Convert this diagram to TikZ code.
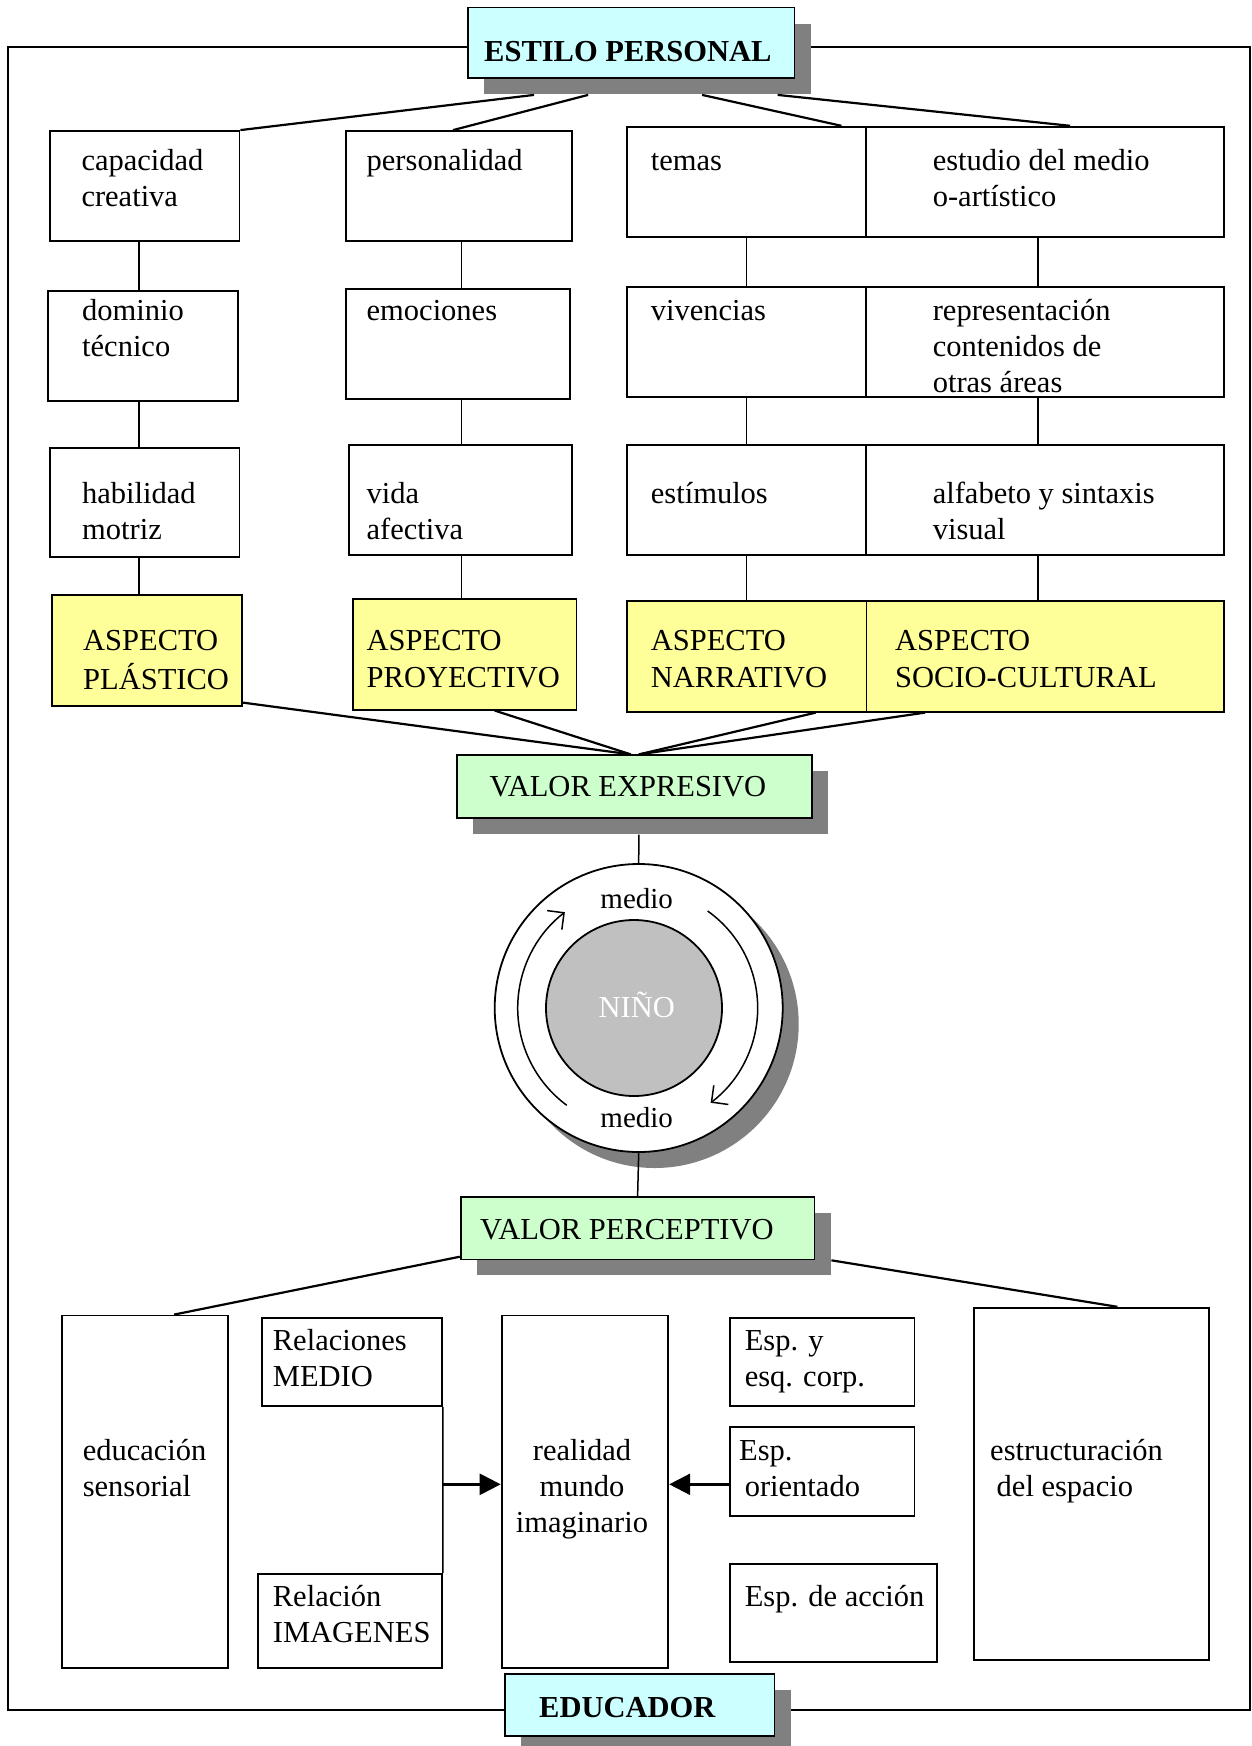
\documentclass[tikz,border=0pt]{standalone}
\usepackage{fontspec}
\setmainfont{Liberation Serif}
\usetikzlibrary{fit,shadows,arrows.meta}
\definecolor{cy}{HTML}{CCFFFF}
\definecolor{ye}{HTML}{FFFF99}
\definecolor{gr}{HTML}{CCFFCC}
\definecolor{sh}{HTML}{808080}
\definecolor{ni}{HTML}{C0C0C0}
\newcommand{\dfont}{\fontsize{30.5}{36}\selectfont}
\def\sa{25.2}
\begin{document}
\begin{tikzpicture}[x=1pt,y=-1pt,
 bx/.style={draw, line width=1.8pt, inner sep=0pt, fill=white},
 ybx/.style={bx, fill=ye},
 shd/.style={drop shadow={shadow xshift=16pt, shadow yshift=-16pt, fill=sh, opacity=1}},
 gbx/.style={bx, fill=gr, shd},
 cbx/.style={bx, fill=cy, shd},
 tx/.style={anchor=north west, inner sep=0pt, align=left, font=\dfont},
 tb/.style={anchor=base west, inner sep=0pt, font=\dfont},
 con/.style={line width=2.2pt},
 vc/.style={line width=1.5pt},
 arr/.style={line width=2.5pt, -{Triangle[length=21pt,width=21pt]}},
 carr/.style={line width=1.5pt, -{Straight Barb[length=12pt,width=24pt]}}]
\useasboundingbox (0,0) rectangle (1252,1746);
% frame
\draw[line width=1.8pt] (8,47) rectangle (1250,1710);
% title boxes
\node[cbx, fit={(468,7.5) (794.5,77.7)}] (ep) {};
\node[tb, font=\dfont\bfseries] (tep) at (484,61) {ESTILO PERSONAL};
\node[cbx, fit={(504.6,1673.9) (774.5,1736)}] (edc) {};
\node[tb, font=\dfont\bfseries] (tedc) at (539,1717) {EDUCADOR};
% row 1
\node[bx, fit={(50,131) (239.5,240.7)}] (cap) {};
\node[bx, fit={(346,131) (572,240.7)}] (pers) {};
\node[bx, fit={(627,126.7) (866.3,237.3)}] (tem) {};
\node[bx, fit={(866.3,126.7) (1224,237.3)}] (estu) {};
\node[tx] (tcap) at (81.3,170-\sa) {\strut capacidad\\creativa};
\node[tx] (tpers) at (366.5,170-\sa) {\strut personalidad};
\node[tx] (ttem) at (650.7,170-\sa) {\strut temas};
\node[tx] (testu) at (932.6,170-\sa) {\strut estudio del medio\\o-artístico};
% row 2
\node[bx, fit={(48,291) (238,401.3)}] (dom) {};
\node[bx, fit={(345.7,289.3) (570,399.3)}] (emo) {};
\node[bx, fit={(627,287.3) (866.3,397)}] (viv) {};
\node[bx, fit={(866.3,287.3) (1224,397)}] (rep) {};
\node[tx] (tdom) at (82,320-\sa) {\strut dominio\\técnico};
\node[tx] (temo) at (366.5,320-\sa) {\strut emociones};
\node[tx] (tviv) at (650.7,320-\sa) {\strut vivencias};
\node[tx] (trep) at (932.6,320-\sa) {\strut representación\\contenidos de\\otras áreas};
% row 3
\node[bx, fit={(50.3,447.7) (239.5,557.3)}] (hab) {};
\node[bx, fit={(349,445.3) (571.7,555.3)}] (vida) {};
\node[bx, fit={(627,445.3) (866.3,555.3)}] (estim) {};
\node[bx, fit={(866.3,445.3) (1224,555.3)}] (alf) {};
\node[tx] (thab) at (82,503.3-\sa) {\strut habilidad\\motriz};
\node[tx] (tvida) at (366.5,503.3-\sa) {\strut vida\\afectiva};
\node[tx] (testim) at (650.7,503.3-\sa) {\strut estímulos};
\node[tx] (talf) at (932.6,503.3-\sa) {\strut alfabeto y sintaxis\\visual};
% row 4
\node[ybx, fit={(52,595) (242,705.7)}] (pla) {};
\node[ybx, fit={(353,599.3) (576.5,709.7)}] (pro) {};
\node[ybx, fit={(627,601.3) (866.5,711.7)}] (nar) {};
\node[ybx, fit={(866.5,601.3) (1224,711.7)}] (soc) {};
\node[tx] (tpla) at (83,650-\sa) {\strut ASPECTO\\[1.5pt]PLÁSTICO};
\node[tx] (tpro) at (366.5,650-\sa) {\strut ASPECTO\\[1.5pt]PROYECTIVO};
\node[tx] (tnar) at (650.7,650-\sa) {\strut ASPECTO\\[1.5pt]NARRATIVO};
\node[tx] (tsoc) at (895,650-\sa) {\strut ASPECTO\\[1.5pt]SOCIO-CULTURAL};
% valor expresivo
\node[gbx, fit={(456.7,755.3) (812,817.7)}] (ve) {};
\node[tb] (tve) at (489.5,796.7) {VALOR EXPRESIVO};
% circle
\node[circle, draw, line width=1.8pt, fill=white, minimum size=288pt, inner sep=0pt, shd] (circ) at (638.7,1008) {};
\node[circle, draw, line width=1.8pt, fill=ni, minimum size=176pt, inner sep=0pt] (nino) at (634,1008) {};
\node[anchor=base, inner sep=0pt, font=\dfont, text=white] (tnino) at (636.7,1017.7) {NIÑO};
\node[anchor=base, inner sep=0pt, font=\fontsize{29}{34}\selectfont] (m1) at (636.7,908.3) {medio};
\node[anchor=base, inner sep=0pt, font=\fontsize{29}{34}\selectfont] (m2) at (636.7,1127.3) {medio};
\draw[carr] ([shift={(126.5:121)}]circ.center) arc[start angle=126.5, end angle=232.4, radius=121];
\draw[carr] ([shift={(-54.6:119)}]circ.center) arc[start angle=-54.6, end angle=52.8, radius=119];
% valor perceptivo
\node[gbx, fit={(460.7,1197.3) (814.5,1259.4)}] (vp) {};
\node[tb] (tvp) at (480,1239.6) {VALOR PERCEPTIVO};
% bottom row
\node[bx, fit={(62,1315.5) (228,1668)}] (edu) {};
\node[bx, fit={(262,1317.7) (442,1406)}] (relm) {};
\node[bx, fit={(258.3,1574) (442,1668)}] (reli) {};
\node[bx, fit={(501.6,1315.5) (668.3,1668)}] (real) {};
\node[bx, fit={(730,1317.7) (914.5,1406)}] (espy) {};
\node[bx, fit={(730,1427.3) (914.5,1516)}] (espo) {};
\node[bx, fit={(730,1564) (936.6,1661.7)}] (espa) {};
\node[bx, fit={(974,1307.7) (1208.8,1660)}] (estr) {};
\node[tx] (tedu) at (82.6,1460-\sa) {\strut educación\\sensorial};
\node[tx] (trelm) at (272.7,1350-\sa) {\strut Relaciones\\MEDIO};
\node[tx] (treli) at (272.7,1606.7-\sa) {\strut Relación\\IMAGENES};
\node[anchor=north, inner sep=0pt, align=center, font=\dfont] (treal) at (582,1460-\sa) {\strut realidad\\mundo\\imaginario};
\node[tx] (tespy) at (744.6,1350-\sa) {\strut Esp. y\\esq. corp.};
\node[tx] (tespo) at (739,1460-\sa) {\strut Esp.\\\strut\kern5.6pt orientado};
\node[tx] (tespa) at (744.6,1606.7-\sa) {\strut Esp. de acción};
\node[tx] (testr) at (990,1460-\sa) {\strut estructuración\\\strut\kern6.5pt del espacio};
% coordinates for vertical connectors
\coordinate (c1) at (139,0);
\coordinate (c2) at (461.5,0);
\coordinate (c3) at (746.6,0);
\coordinate (c4) at (1038,0);
\coordinate (ay) at (0,1484.3);
% connectors from ESTILO PERSONAL
\draw[con] ([xshift=67pt,yshift=-16.3pt]ep.south west) -- (cap.north east);
\draw[con] ([xshift=121pt,yshift=-16.3pt]ep.south west) -- ([xshift=-6pt]pers.north);
\draw[con] ([xshift=235pt,yshift=-16.3pt]ep.south west) -- ([xshift=-24pt]estu.north west);
\draw[con] ([xshift=310.5pt,yshift=-16.3pt]ep.south west) -- ([xshift=25pt]estu.north);
% vertical connectors
\draw[vc] (cap.south -| c1) -- (dom.north -| c1);
\draw[vc] (dom.south -| c1) -- (hab.north -| c1);
\draw[vc] (hab.south -| c1) -- (pla.north -| c1);
\draw[vc] (pers.south -| c2) -- (emo.north -| c2);
\draw[vc] (emo.south -| c2) -- (vida.north -| c2);
\draw[vc] (vida.south -| c2) -- (pro.north -| c2);
\draw[vc] (tem.south -| c3) -- (viv.north -| c3);
\draw[vc] (viv.south -| c3) -- (estim.north -| c3);
\draw[vc] (estim.south -| c3) -- (nar.north -| c3);
\draw[vc] (estu.south -| c4) -- (rep.north -| c4);
\draw[vc] (rep.south -| c4) -- (alf.north -| c4);
\draw[vc] (alf.south -| c4) -- (soc.north -| c4);
% aspects to valor expresivo
\draw[con] ([yshift=4pt]pla.south east) -- ([xshift=-3.5pt]ve.north);
\draw[con] ([xshift=30pt]pro.south) -- ([xshift=-3.5pt]ve.north);
\draw[con] ([xshift=69pt]nar.south) -- ([xshift=4.5pt]ve.north);
\draw[con] ([xshift=59.5pt]soc.south west) -- ([xshift=4.5pt]ve.north);
% valor expresivo - circle - valor perceptivo
\draw[vc] ([xshift=4.5pt,yshift=-16pt]ve.south) -- (circ.north);
\draw[vc] (circ.south) -- (vp.north);
% valor perceptivo to bottom
\draw[con] ([yshift=3.6pt]vp.south west) -- ([xshift=29pt]edu.north);
\draw[con] ([xshift=16pt]vp.south east) -- ([xshift=26pt]estr.north);
% relations
\draw[vc] (relm.south east) -- (reli.north east);
\draw[arr] (relm.east |- ay) -- (real.west |- ay);
\draw[arr] (espo.west |- ay) -- (real.east |- ay);
\end{tikzpicture}
\end{document}
